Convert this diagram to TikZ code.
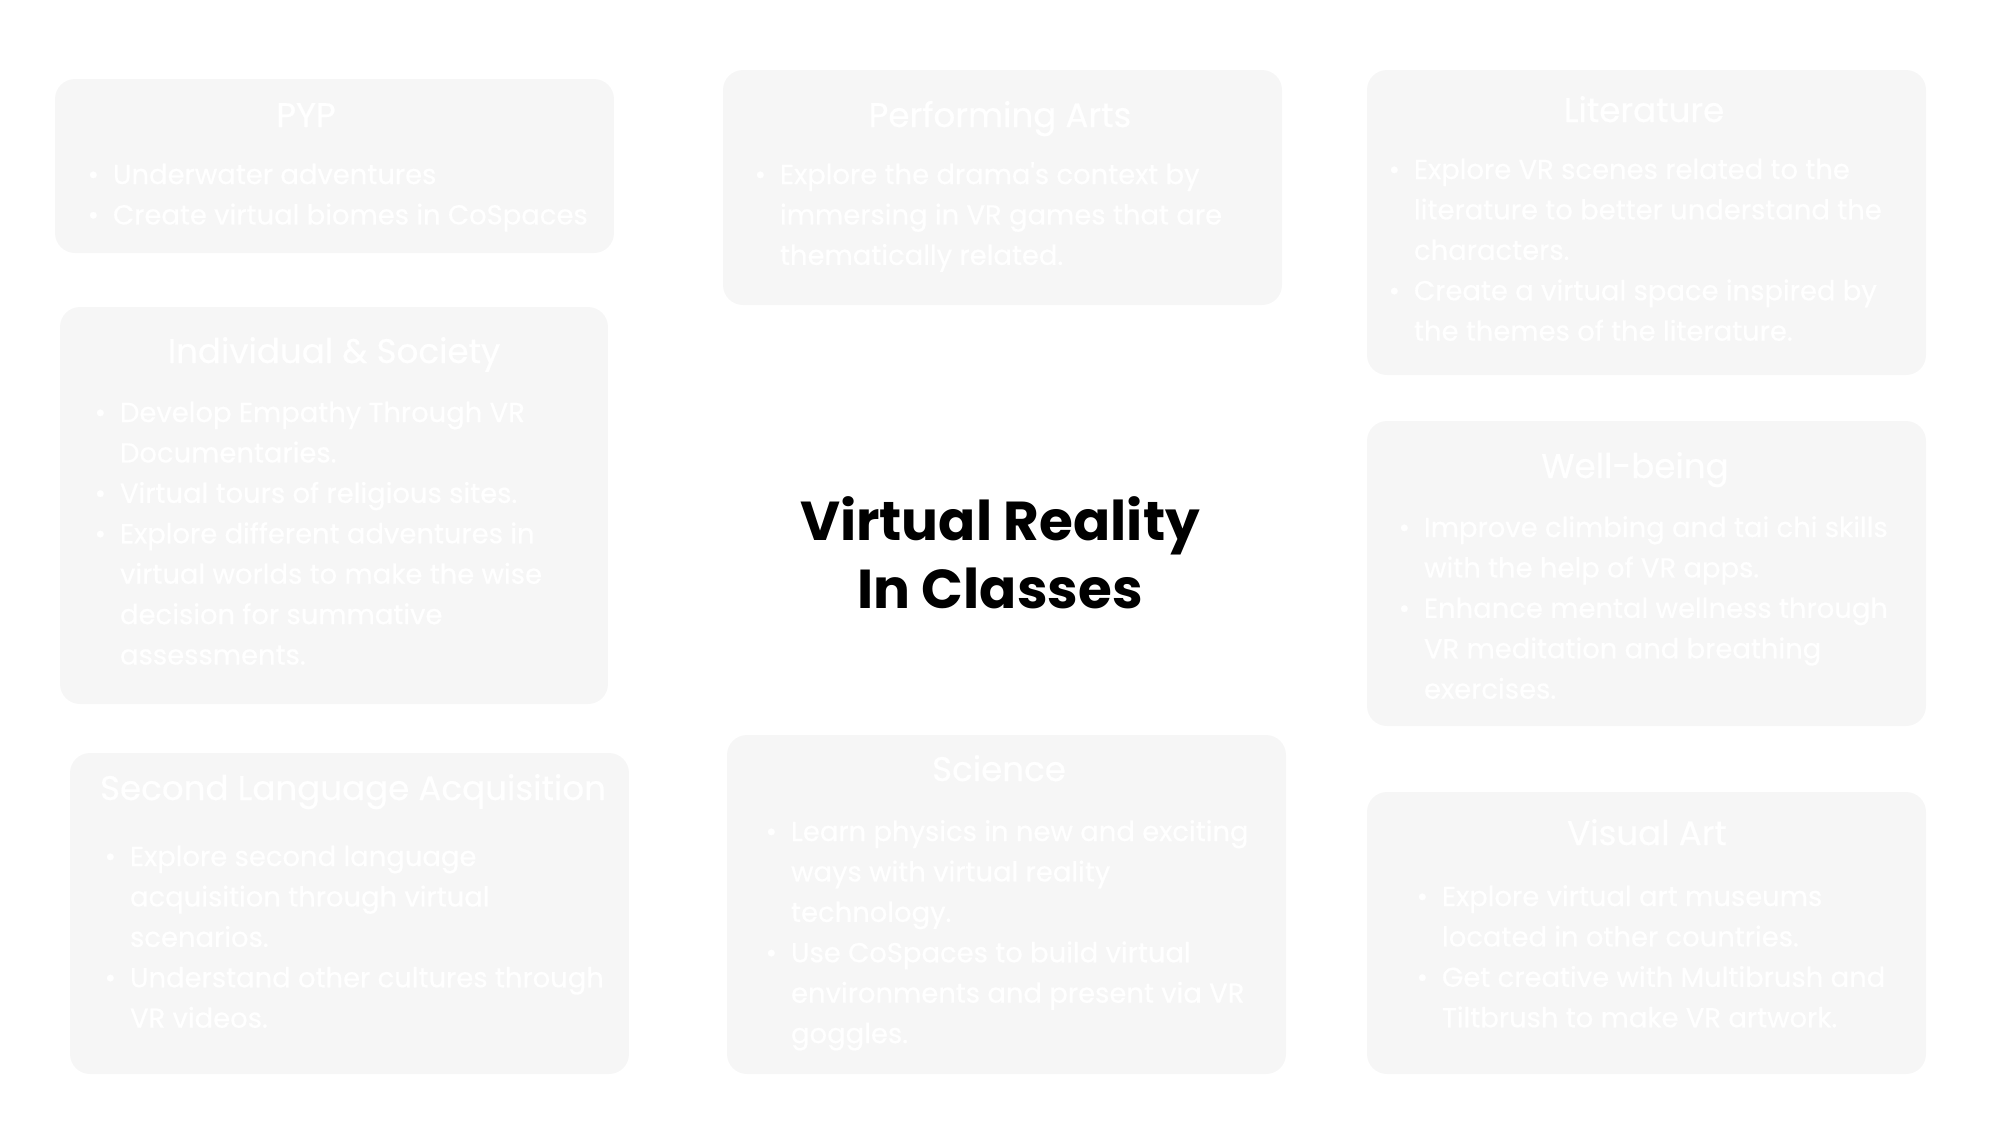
\documentclass[tikz,border=0pt]{standalone}
\usepackage{fontspec}
\setmainfont{Poppins}
\newfontfamily\cardfont[FakeBold=0.6]{Poppins}
\usepackage{tikz}
\usetikzlibrary{positioning}
\definecolor{boxgray}{HTML}{F6F6F6}

\tikzset{
  card/.style={draw=none, fill=boxgray, rounded corners=2mm, inner sep=0pt},
  cardtitle/.style={anchor=base, text=white, font=\cardfont\fontsize{9.7}{12}\selectfont},
  cardbody/.style={anchor=base west, inner sep=0pt, text=white,
    font=\cardfont\fontsize{7.8}{11.5}\selectfont},
}
\newcommand{\vbul}{\textbullet}

\begin{document}
\begin{tikzpicture}[x=0.1mm, y=-0.1mm]
    \useasboundingbox (0,0) rectangle (2000,1133);

    % cards
    \node[card, minimum width=55.9mm, minimum height=17.4mm] (pyp)  at (334.5,166) {};
    \node[card, minimum width=55.9mm, minimum height=23.5mm] (arts) at (1002.5,187.5) {};
    \node[card, minimum width=55.9mm, minimum height=30.5mm] (lit)  at (1646.5,222.5) {};
    \node[card, minimum width=54.8mm, minimum height=39.7mm] (soc)  at (334,505.5) {};
    \node[card, minimum width=55.9mm, minimum height=30.5mm] (well) at (1646.5,573.5) {};
    \node[card, minimum width=55.9mm, minimum height=32.1mm] (lang) at (349.5,913.5) {};
    \node[card, minimum width=55.9mm, minimum height=33.9mm] (sci)  at (1006.5,904.5) {};
    \node[card, minimum width=55.9mm, minimum height=28.2mm] (art)  at (1646.5,933) {};

    % titles
    \node[cardtitle] (pyp-t)  at (306,127)  {PYP};
    \node[cardtitle] (arts-t) at (1000,127) {Performing Arts};
    \node[cardtitle] (lit-t)  at (1644,122) {Literature};
    \node[cardtitle] (soc-t)  at (334,363)  {Individual \& Society};
    \node[cardtitle] (well-t) at (1635,478) {Well-being};
    \node[cardtitle] (lang-t) at (353,800)  {Second Language Acquisition};
    \node[cardtitle] (sci-t)  at (999,781)  {Science};
    \node[cardtitle] (art-t)  at (1647,845) {Visual Art};

    % bullet lists
    \node[cardbody] (pyp-b) at (87,184) {\begin{tabular}[t]{@{}l@{\hspace{4pt}}l@{}}
      \vbul & Underwater adventures\\
      \vbul & Create virtual biomes in CoSpaces
    \end{tabular}};
    \node[cardbody] (arts-b) at (754,184) {\begin{tabular}[t]{@{}l@{\hspace{4pt}}l@{}}
      \vbul & Explore the drama's context by\\
          & immersing in VR games that are\\
          & thematically related.
    \end{tabular}};
    \node[cardbody] (lit-b) at (1388,179) {\begin{tabular}[t]{@{}l@{\hspace{4pt}}l@{}}
      \vbul & Explore VR scenes related to the\\
          & literature to better understand the\\
          & characters.\\
      \vbul & Create a virtual space inspired by\\
          & the themes of the literature.
    \end{tabular}};
    \node[cardbody] (soc-b) at (94,422) {\begin{tabular}[t]{@{}l@{\hspace{4pt}}l@{}}
      \vbul & Develop Empathy Through VR\\
          & Documentaries.\\
      \vbul & Virtual tours of religious sites.\\
      \vbul & Explore different adventures in\\
          & virtual worlds to make the wise\\
          & decision for summative\\
          & assessments.
    \end{tabular}};
    \node[cardbody] (well-b) at (1398,537) {\begin{tabular}[t]{@{}l@{\hspace{4pt}}l@{}}
      \vbul & Improve climbing and tai chi skills\\
          & with the help of VR apps.\\
      \vbul & Enhance mental wellness through\\
          & VR meditation and breathing\\
          & exercises.
    \end{tabular}};
    \node[cardbody] (lang-b) at (104,866) {\begin{tabular}[t]{@{}l@{\hspace{4pt}}l@{}}
      \vbul & Explore second language\\
          & acquisition through virtual\\
          & scenarios.\\
      \vbul & Understand other cultures through\\
          & VR videos.
    \end{tabular}};
    \node[cardbody] (sci-b) at (765,841) {\begin{tabular}[t]{@{}l@{\hspace{4pt}}l@{}}
      \vbul & Learn physics in new and exciting\\
          & ways with virtual reality\\
          & technology.\\
      \vbul & Use CoSpaces to build virtual\\
          & environments and present via VR\\
          & goggles.
    \end{tabular}};
    \node[cardbody] (art-b) at (1416,906) {\begin{tabular}[t]{@{}l@{\hspace{4pt}}l@{}}
      \vbul & Explore virtual art museums\\
          & located in other countries.\\
      \vbul & Get creative with Multibrush and\\
          & Tiltbrush to make VR artwork.
    \end{tabular}};

    % centre heading
    \node[anchor=base, align=center, inner sep=0pt,
          font=\bfseries\fontsize{15.6}{19.3}\selectfont] (head) at (1000,608)
          {Virtual Reality\\In Classes};
\end{tikzpicture}
\end{document}
